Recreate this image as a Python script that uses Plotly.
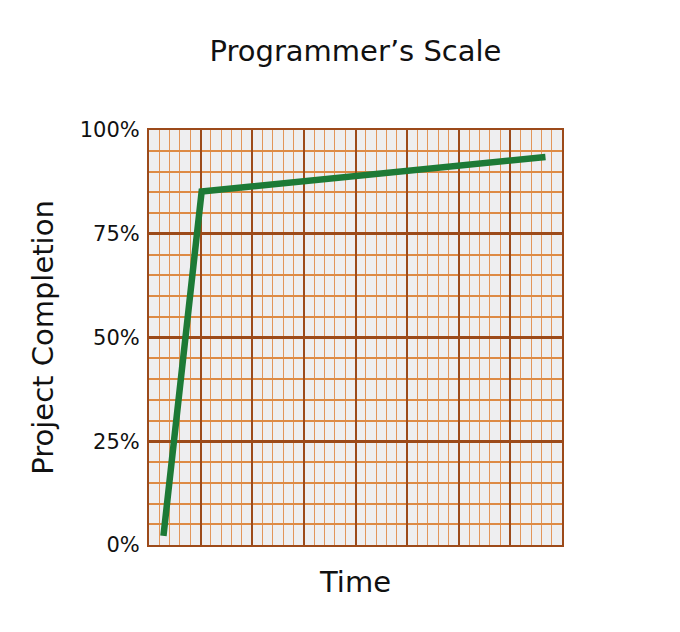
import plotly.graph_objects as go

# programmer's scale: time vs completion
time_pts = [1.4, 5.1, 38.4]
completion_pts = [2.2, 85.2, 93.5]

y_ticks = [0, 25, 50, 75, 100]
y_labels = ["0%", "25%", "50%", "75%", "100%"]

GREEN = "#1d7a36"
BROWN = "#9c4a1a"
ORANGE = "#dd8a45"
FONT = "DejaVu Sans"

fig = go.Figure(
    go.Scatter(
        x=time_pts,
        y=completion_pts,
        mode="lines",
        line=dict(color=GREEN, width=6.5),
        hoverinfo="skip",
    )
)

fig.update_layout(
    width=680,
    height=632,
    margin=dict(l=141, r=126, t=122, b=95),
    paper_bgcolor="white",
    plot_bgcolor="#eeeef0",
    showlegend=False,
    title=dict(
        text="Programmer’s Scale",
        xref="paper",
        x=0.5,
        xanchor="center",
        y=0.932,
        yanchor="middle",
        font=dict(family=FONT, size=29, color="#111111"),
    ),
)

fig.update_xaxes(
    range=[0, 40],
    tick0=0,
    dtick=5,
    showticklabels=False,
    ticks="",
    showgrid=True,
    gridcolor=BROWN,
    gridwidth=2,
    minor=dict(dtick=1, showgrid=True, gridcolor="#e2955a", gridwidth=1),
    showline=True,
    linecolor=BROWN,
    linewidth=2,
    mirror=True,
    zeroline=False,
    title=dict(text="Time", standoff=26, font=dict(family=FONT, size=29, color="#111111")),
)

fig.update_yaxes(
    range=[0, 100],
    tickvals=y_ticks,
    ticktext=y_labels,
    ticks="",
    ticklabelstandoff=3,
    tickfont=dict(family=FONT, size=21, color="#111111"),
    showgrid=True,
    gridcolor=BROWN,
    gridwidth=3,
    minor=dict(dtick=5, showgrid=True, gridcolor=ORANGE, gridwidth=1.5),
    showline=True,
    linecolor=BROWN,
    linewidth=2,
    mirror=True,
    zeroline=False,
    title=dict(text="Project Completion", standoff=18, font=dict(family=FONT, size=29, color="#111111")),
)

fig.write_html("out.html")
